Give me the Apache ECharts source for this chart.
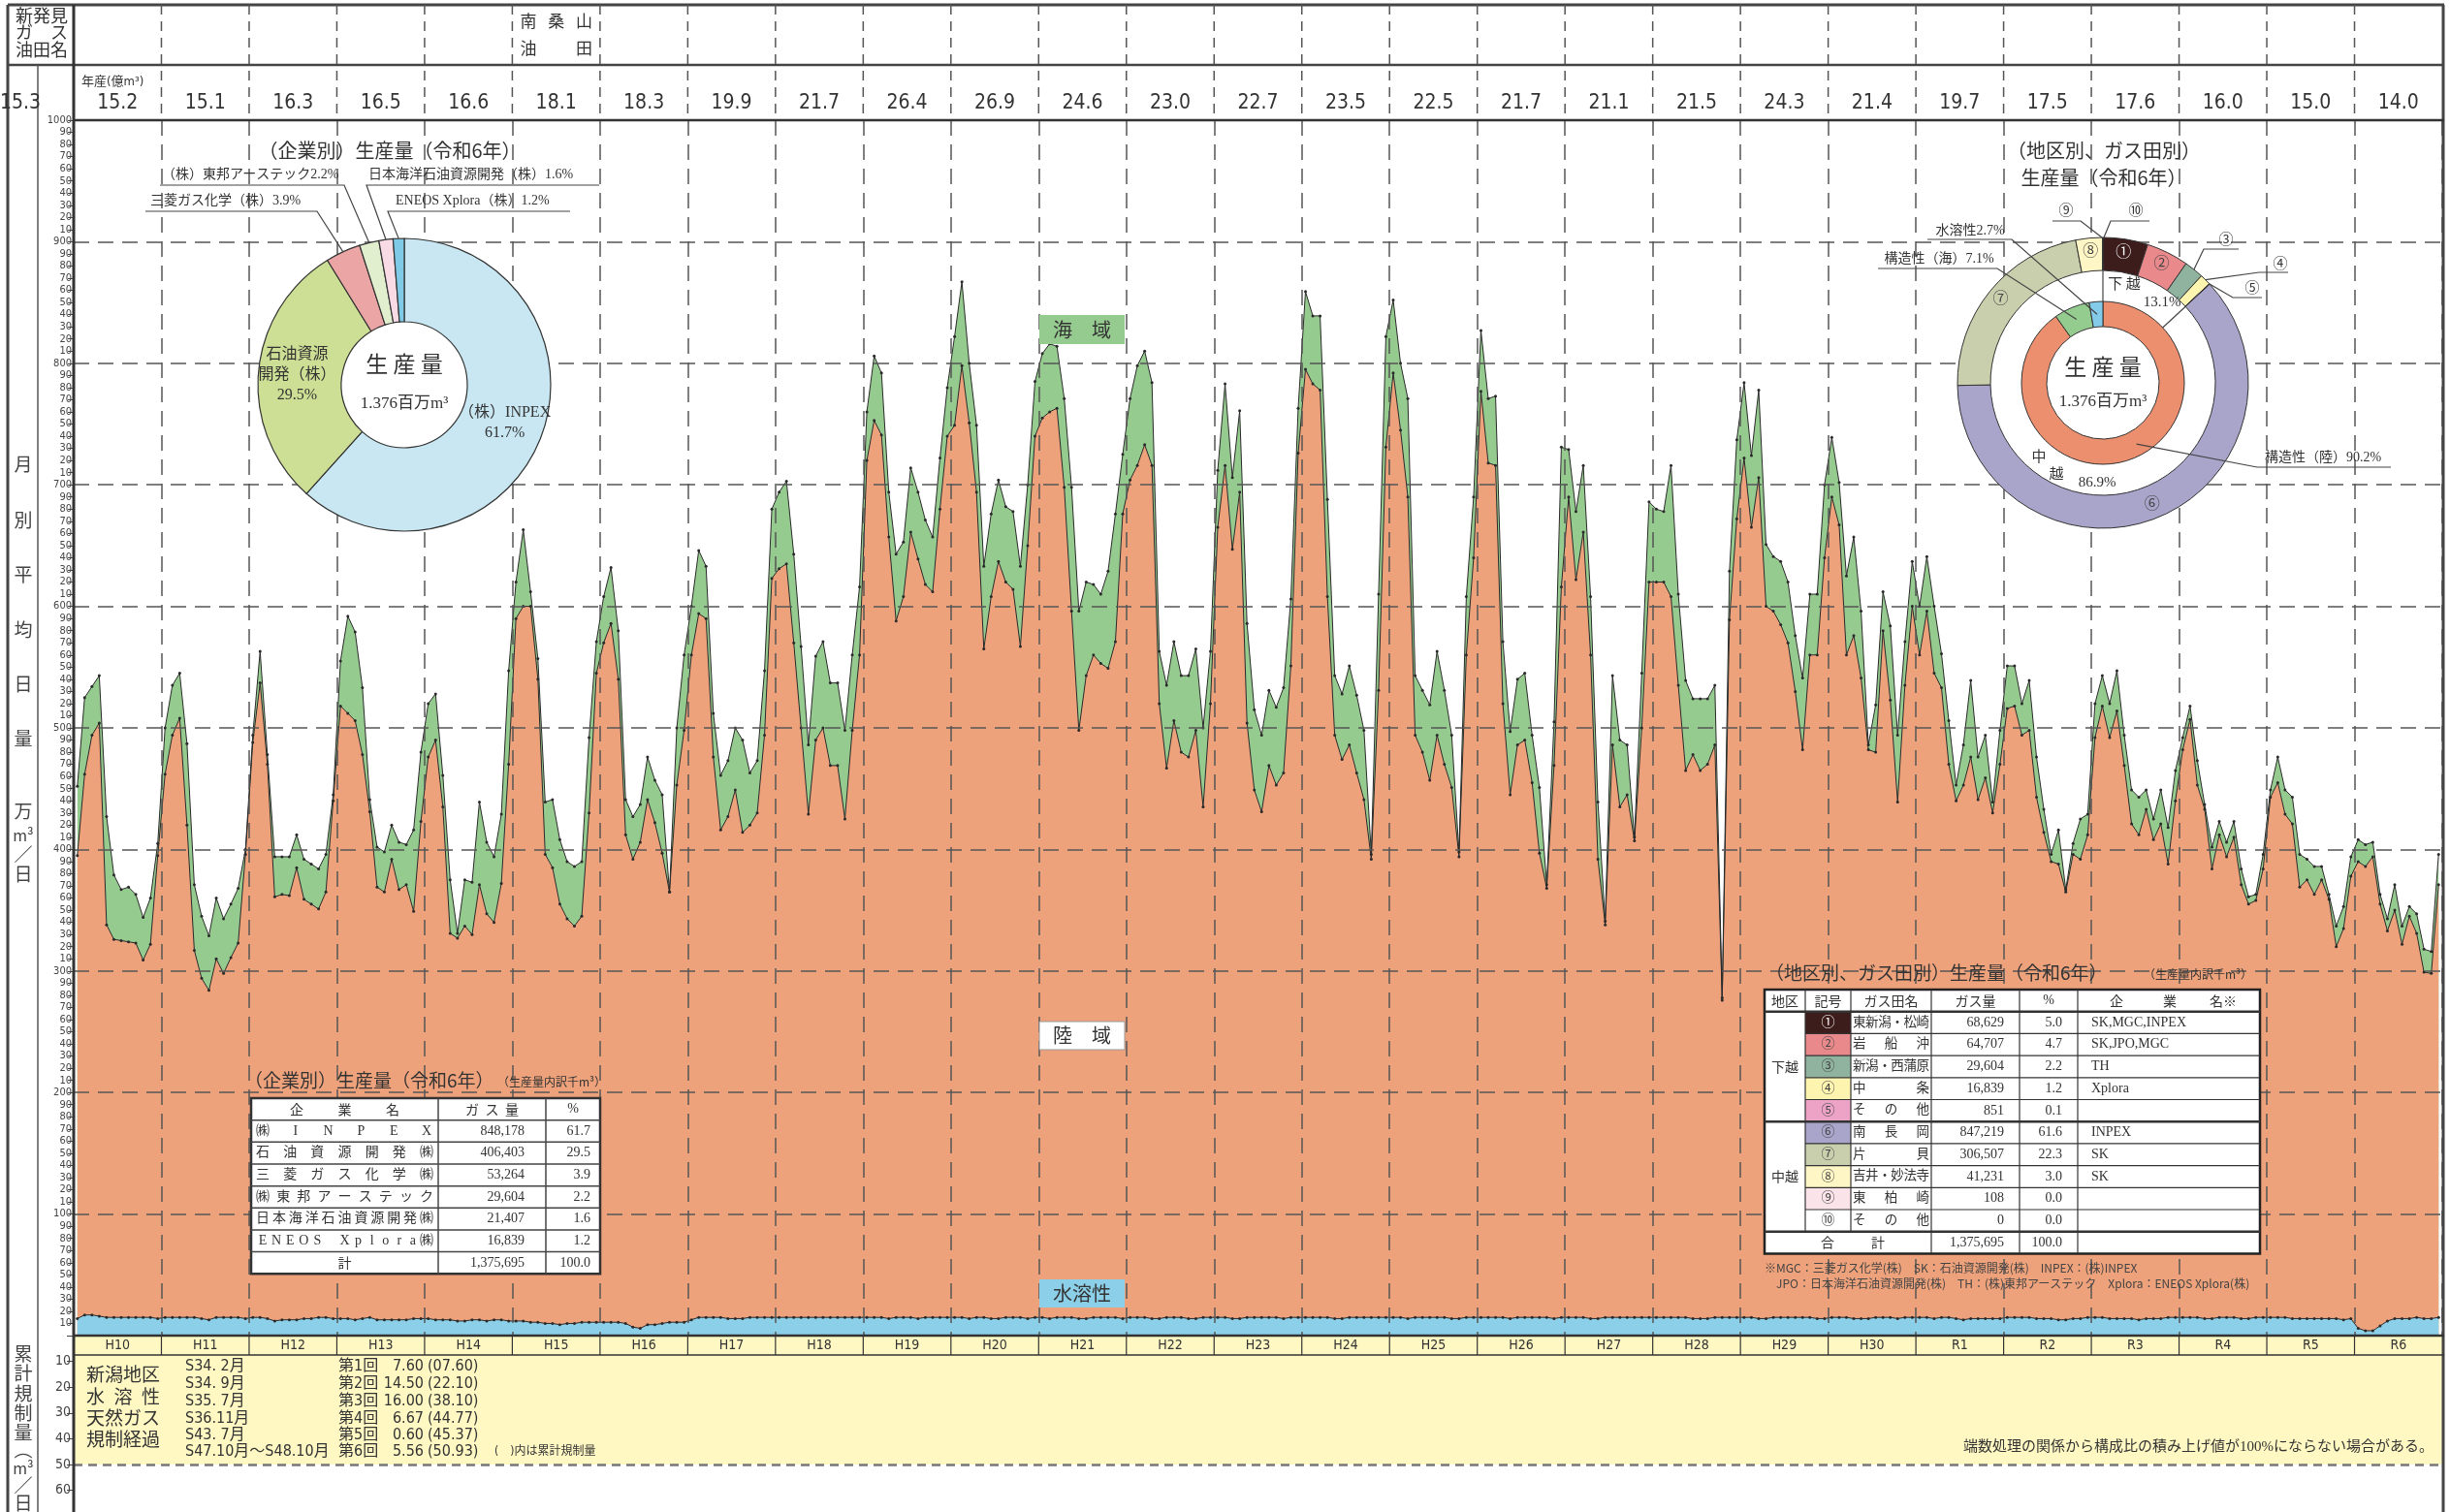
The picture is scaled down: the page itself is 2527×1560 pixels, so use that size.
<!DOCTYPE html>
<html>
<head>
<meta charset="utf-8">
<title>天然ガス月別平均日量の推移</title>
<script src="https://cdn.jsdelivr.net/npm/echarts@6.0.0/dist/echarts.min.js"></script>
<style>
html, body { margin: 0; padding: 0; background: #fff; }
#main { width: 2527px; height: 1560px; }
</style>
</head>
<body>
<div id="main"></div>
<script>
var eraLabels = ['H10','H11','H12','H13','H14','H15','H16','H17','H18','H19','H20','H21','H22','H23','H24','H25','H26','H27','H28','H29','H30','R1','R2','R3','R4','R5','R6'];
var annualOutput = ['15.2','15.1','16.3','16.5','16.6','18.1','18.3','19.9','21.7','26.4','26.9','24.6','23.0','22.7','23.5','22.5','21.7','21.1','21.5','24.3','21.4','19.7','17.5','17.6','16.0','15.0','14.0'];
var priorOutput = '15.3';
var newFieldEra = 5;
var newFieldLines = [['南', '桑', '山'], ['油', '田']];

// 月別平均日量（万m3/日）: 海域の上端 = 合計
var totalLine = [
  452,525,534,543,427,379,367,369,363,344,360,405,
  500,535,545,487,371,345,329,360,343,355,368,400,
  494,563,478,394,394,394,412,392,388,384,396,445,
  555,592,579,533,441,402,398,420,406,404,416,480,
  520,528,461,375,331,375,373,439,406,394,429,547,
  620,663,612,557,439,441,408,390,386,390,492,571,
  608,632,580,441,427,437,476,457,445,365,500,560,
  600,646,633,512,461,473,500,490,463,473,547,680,
  694,703,643,567,486,559,571,537,537,498,560,616,
  760,806,792,694,643,653,714,694,671,657,722,780,
  822,867,800,749,633,676,704,682,678,633,700,785,
  808,816,814,771,698,596,620,618,610,629,676,725,
  771,798,810,784,563,535,571,543,543,565,500,563,
  712,783,706,761,586,515,494,531,517,533,606,763,
  859,839,839,688,543,528,551,527,498,396,610,822,
  852,800,771,543,531,519,563,531,494,398,608,690,
  827,771,773,571,497,540,545,494,451,371,505,731,
  729,678,716,608,439,341,543,490,486,410,545,686,
  680,678,716,610,539,524,524,524,535,278,629,737,
  784,724,778,651,641,637,620,576,541,610,610,700,
  739,702,625,657,596,486,519,612,584,494,571,637,
  600,641,600,561,506,453,486,539,476,494,439,498,
  551,551,520,539,476,433,396,416,367,405,425,429,
  520,543,520,547,494,449,443,449,425,449,418,465,
  492,518,473,437,402,423,406,423,384,361,363,396,
  449,476,449,443,396,392,386,386,363,337,353,394,
  408,404,406,363,343,371,337,353,347,318,316,396
];
// 陸域の上端（水溶性を含む）
var onshoreLine = [
  395,462,494,504,338,326,325,324,323,309,322,395,
  462,494,508,420,317,294,284,310,298,311,323,396,
  488,537,470,361,363,362,385,359,355,351,365,440,
  518,512,506,478,431,369,365,392,367,371,349,423,
  476,490,435,331,327,337,330,371,347,340,372,470,
  590,600,600,540,396,385,355,343,337,345,430,545,
  570,586,540,412,392,406,441,422,397,365,453,498,
  560,594,590,476,416,427,449,414,420,430,494,623,
  631,635,570,500,429,490,500,469,469,425,498,560,
  720,753,741,657,588,608,661,639,618,612,680,740,
  749,798,751,694,565,608,637,620,614,567,650,740,
  755,760,763,698,596,498,543,560,553,549,571,676,
  704,716,733,716,520,467,506,480,476,498,435,520,
  665,716,647,694,504,449,431,469,453,463,551,726,
  795,783,778,608,494,474,486,463,441,392,531,731,
  792,745,690,494,480,457,494,470,451,394,560,640,
  777,718,716,520,445,486,490,455,397,368,469,616,
  690,622,661,560,392,338,486,435,445,407,500,620,
  620,620,608,535,465,478,465,470,486,276,589,672,
  722,665,706,600,596,585,570,530,482,560,560,640,
  690,667,560,576,541,482,480,580,523,439,535,600,
  560,596,545,533,470,440,453,476,441,459,430,470,
  516,518,494,498,443,414,390,388,365,396,392,412,
  492,518,492,514,469,421,412,433,408,421,388,440,
  482,507,453,433,384,412,394,410,371,355,358,384,
  443,455,429,421,369,375,363,375,359,320,335,378,
  390,386,394,355,333,350,322,345,331,299,298,371
];
var waterLine = [
  14,17,17,16,15,15,15,15,15,15,15,14,
  15,15,15,15,15,14,13,15,15,15,15,14,
  15,15,14,12,13,13,13,14,14,15,15,14,
  14,14,13,14,15,13,13,13,13,13,14,14,
  14,13,13,13,12,12,13,13,12,13,13,12,
  12,12,11,11,10,10,9,10,10,11,11,11,
  11,11,11,10,7,6,9,9,10,11,11,11,
  13,15,15,15,15,14,14,14,15,15,15,15,
  15,15,15,15,15,15,15,15,15,15,15,15,
  15,15,15,14,15,15,15,14,15,15,15,15,
  15,15,14,15,15,14,14,15,15,15,14,15,
  15,14,15,15,15,14,14,15,15,15,15,14,
  15,15,15,14,14,15,15,15,14,14,15,15,
  15,15,14,14,15,15,15,15,15,14,15,15,
  15,15,15,15,14,14,15,15,15,15,15,15,
  15,15,14,15,15,15,15,15,14,14,15,15,
  15,15,15,15,14,15,15,15,15,15,14,15,
  15,15,15,14,14,15,15,15,15,15,15,15,
  15,15,15,15,15,14,14,14,15,15,15,15,
  15,15,14,14,15,15,15,15,15,15,14,14,
  15,15,15,14,14,14,15,15,15,14,15,15,
  15,15,14,15,15,14,13,14,14,14,14,14,
  15,15,15,15,14,14,14,13,13,14,14,15,
  15,15,14,14,14,14,13,14,14,14,15,15,
  15,15,15,14,14,15,15,15,14,14,15,15,
  15,15,15,14,14,14,14,14,14,14,13,14,
  6,4,4,8,12,14,14,14,15,14,14,15
];

// 企業別生産量（令和6年, 千m3）
var companyTable = ['㈱INPEX', '石油資源開発㈱', '三菱ガス化学㈱', '㈱東邦アーステック', '日本海洋石油資源開発㈱', 'ENEOS Xplora㈱'];
var companyPie = ['（株）INPEX', '石油資源\n開発（株）', '三菱ガス化学（株）', '（株）東邦アーステック', '日本海洋石油資源開発（株）', 'ENEOS Xplora（株）'];
var companyVolume = [848178, 406403, 53264, 29604, 21407, 16839];
var companyShare = ['61.7', '29.5', '3.9', '2.2', '1.6', '1.2'];
var companyColors = ['#c8e7f2', '#cddf94', '#eca5a5', '#e1efcf', '#f9dbe5', '#7fcbe7'];

// 地区別、ガス田別生産量（令和6年, 千m3）
var fieldMarks = ['①','②','③','④','⑤','⑥','⑦','⑧','⑨','⑩'];
var fieldNames = ['東新潟・松崎', '岩船沖', '新潟・西蒲原', '中条', 'その他', '南長岡', '片貝', '吉井・妙法寺', '東柏崎', 'その他'];
var fieldVolume = [68629, 64707, 29604, 16839, 851, 847219, 306507, 41231, 108, 0];
var fieldShare = ['5.0', '4.7', '2.2', '1.2', '0.1', '61.6', '22.3', '3.0', '0.0', '0.0'];
var fieldCompany = ['SK,MGC,INPEX', 'SK,JPO,MGC', 'TH', 'Xplora', '', 'INPEX', 'SK', 'SK', '', ''];
var fieldColors = ['#3d1c1c', '#e9898b', '#8fb39f', '#fdf4b0', '#eda3c6', '#a8a4ca', '#c9cfad', '#fef6c4', '#fbe3ea', '#ffffff'];
var districtShare = ['13.1', '86.9'];
var typeNames = ['構造性（陸）', '構造性（海）', '水溶性'];
var typeShare = [90.2, 7.1, 2.7];
var typeColors = ['#ec8f6e', '#94cb8f', '#84cbea'];

// 新潟地区水溶性天然ガス規制経過
var regDates = ['S34. 2月', 'S34. 9月', 'S35. 7月', 'S36.11月', 'S43. 7月', 'S47.10月～S48.10月'];
var regRounds = ['第1回', '第2回', '第3回', '第4回', '第5回', '第6回'];
var regAmount = ['7.60', '14.50', '16.00', '6.67', '0.60', '5.56'];
var regCumulative = ['(07.60)', '(22.10)', '(38.10)', '(44.77)', '(45.37)', '(50.93)'];
var regLimit = 50;

var SANS = '"Noto Sans CJK JP", "Noto Sans", sans-serif';
var SERIF = '"Liberation Serif", "DejaVu Serif", "Noto Sans CJK JP", serif';
var NARROW = '"DejaVu Sans Condensed", "Liberation Sans Narrow", "Noto Sans CJK JP", sans-serif';

var GRID = { left: 76, top: 124, width: 2443, height: 1254 };
var PLOT_BOTTOM = GRID.top + GRID.height;
var RIGHT = GRID.left + GRID.width;
var YEAR_W = GRID.width / eraLabels.length;
var PIE1_C = [417, 397];
var PIE2_C = [2169, 395];

function yearX(k) { return GRID.left + YEAR_W * k; }
function sum(a) { return a.reduce(function (s, v) { return s + v; }, 0); }
function fmt(n) { return String(n).replace(/\B(?=(\d{3})+(?!\d))/g, ','); }
function cumMid(values, i) {
    var before = sum(values.slice(0, i));
    return (before + values[i] / 2) / sum(values);
}
function cumEnd(values, i) { return sum(values.slice(0, i + 1)) / sum(values); }
function arcPoint(c, r, frac) {
    var a = frac * 2 * Math.PI;
    return [c[0] + r * Math.sin(a), c[1] - r * Math.cos(a)];
}
function toPoints(values) {
    return values.map(function (v, i) {
        return [Math.floor(i / 12) + ((i % 12) + 0.5) / 12, v];
    });
}

var G = [];
function add(el) { G.push(el); }
function txt(x, y, text, size, o) {
    o = o || {};
    return {
        type: 'text', x: x, y: y, z: o.z || 40, silent: true,
        style: {
            text: text, fontSize: size, fontFamily: o.font || SANS, fontWeight: o.weight || 'normal',
            fill: o.color || '#333', align: o.align || 'center', verticalAlign: 'middle',
            textAlign: o.align || 'center', textVerticalAlign: 'middle', lineHeight: o.lineHeight
        }
    };
}
function seg(x1, y1, x2, y2, w, color, dash, z) {
    return {
        type: 'line', z: z || 38, silent: true,
        shape: { x1: x1, y1: y1, x2: x2, y2: y2 },
        style: { stroke: color || '#333', lineWidth: w || 1, lineDash: dash || null }
    };
}
function poly(points, w, color) {
    return { type: 'polyline', z: 38, silent: true, shape: { points: points }, style: { stroke: color || '#333', lineWidth: w || 1, fill: null } };
}
function box(x, y, w, h, fill, stroke, lw, z) {
    return { type: 'rect', z: z || 30, silent: true, shape: { x: x, y: y, width: w, height: h }, style: { fill: fill, stroke: stroke || null, lineWidth: lw || 0 } };
}
function spread(chars, x0, x1, y, size, font, color) {
    var n = chars.length;
    if (n === 1) { add(txt((x0 + x1) / 2, y, chars[0], size, { font: font, color: color })); return; }
    var a = x0 + size / 2, b = x1 - size / 2;
    chars.forEach(function (c, i) {
        add(txt(a + (b - a) * i / (n - 1), y, c, size, { font: font, color: color }));
    });
}

// 枠線
add(seg(8, 5, RIGHT + 2, 5, 3, '#444'));
add(seg(8, 5, 8, 1560, 3, '#444'));
add(seg(RIGHT + 1, 5, RIGHT + 1, 1560, 3, '#444'));
add(seg(8, 67, RIGHT + 2, 67, 2.5, '#444'));
add(seg(GRID.left, GRID.top, RIGHT + 2, GRID.top, 2.5, '#333'));
add(seg(39, 67, 39, 1560, 1.5, '#555'));
add(seg(GRID.left, 5, GRID.left, 1560, 3, '#333'));
add(seg(GRID.left, PLOT_BOTTOM, RIGHT + 2, PLOT_BOTTOM, 2.5, '#333'));
add(seg(GRID.left, PLOT_BOTTOM + 20, RIGHT + 2, PLOT_BOTTOM + 20, 1.5, '#333'));
add(box(GRID.left + 1, PLOT_BOTTOM + 1, GRID.width, 19, '#fff8c2', null, 0, 31));

// 見出し行
add(txt(43, 16, '新発見', 18));
spread(['ガ', 'ス'], 16, 70, 33, 18);
add(txt(43, 51, '油田名', 18));
add(txt(84, 85, '年産(億m³)', 13, { align: 'left', font: NARROW }));
add(txt(21, 107, priorOutput, 21, { font: NARROW }));
for (var k = 0; k < eraLabels.length; k++) {
    var cx = yearX(k) + YEAR_W / 2;
    add(txt(cx, 107, annualOutput[k], 21, { font: NARROW }));
    add(txt(cx, PLOT_BOTTOM + 10.5, eraLabels[k], 14, { font: NARROW, z: 41 }));
    if (k > 0) {
        add(seg(yearX(k), 5, yearX(k), GRID.top, 1.5, '#555', [10, 7]));
        add(seg(yearX(k), PLOT_BOTTOM, yearX(k), PLOT_BOTTOM + 20, 1.2, '#333', null, 39));
    }
}
spread(newFieldLines[0], yearX(newFieldEra) + 8, yearX(newFieldEra + 1) - 8, 22, 17);
spread(newFieldLines[1], yearX(newFieldEra) + 8, yearX(newFieldEra + 1) - 8, 50, 17);

// 縦書き軸タイトル
var vChars = ['月', '別', '平', '均', '日', '量', '万', 'm³', '／', '日'];
var vYs = [479, 537, 593, 650, 706, 762, 837, 862, 882, 902];
vChars.forEach(function (c, i) { add(txt(24, vYs[i], c, c === 'm³' ? 16 : 19, { color: '#444' })); });
var bChars = ['累', '計', '規', '制', '量', '︵', 'm³', '／', '日'];
var bYs = [1397, 1417, 1438, 1458, 1478, 1496, 1515, 1533, 1551];
bChars.forEach(function (c, i) { add(txt(24, bYs[i], c, c === 'm³' ? 16 : 19, { color: '#444' })); });

// 領域ラベル
add(box(1072, 325, 88, 30, '#96cb8f', null, 0));
add(txt(1116, 340, '海　域', 20));
add(box(1072, 1054, 88, 29, '#ffffff', '#999', 1));
add(txt(1116, 1068.5, '陸　域', 20));
add(box(1072, 1320, 88, 29, '#8ccfe8', null, 0));
add(txt(1116, 1334.5, '水溶性', 20));

// 規制経過
spread(['新', '潟', '地', '区'], 89, 165, 1418, 19);
spread(['水', '溶', '性'], 89, 165, 1441, 19);
spread(['天', '然', 'ガ', 'ス'], 89, 165, 1463, 19);
spread(['規', '制', '経', '過'], 89, 165, 1485, 19);
var regYs = [1410, 1428, 1446, 1464, 1481, 1498];
regDates.forEach(function (d, i) {
    add(txt(191, regYs[i], d, 16, { align: 'left', font: NARROW }));
    add(txt(349, regYs[i], regRounds[i], 16, { align: 'left', font: NARROW }));
    add(txt(437, regYs[i], regAmount[i], 16, { align: 'right', font: NARROW }));
    add(txt(441, regYs[i], regCumulative[i], 16, { align: 'left', font: NARROW }));
});
add(txt(510, 1498, '(　)内は累計規制量', 12, { align: 'left', font: NARROW }));
add(txt(2510, 1493, '端数処理の関係から構成比の積み上げ値が100%にならない場合がある。', 15, { align: 'right', font: SERIF }));

// 企業別 円グラフの注記
add(txt(402, 155, '（企業別）生産量（令和6年）', 20));
add(txt(417, 375, '生 産 量', 23));
add(txt(417, 417, '1.376百万m³', 17, { font: SERIF }));
var p1Labels = [
    { i: 3, x: 167, y: 180, line: [[165, 191], [355, 191]] },
    { i: 2, x: 155, y: 207, line: [[150, 218], [327, 218]] },
    { i: 4, x: 380, y: 180, line: [[618, 191], [378, 191]] },
    { i: 5, x: 408, y: 207, line: [[588, 218], [400, 218]] }
];
p1Labels.forEach(function (l) {
    add(txt(l.x, l.y, companyPie[l.i] + companyShare[l.i] + '%', 14, { align: 'left', font: SERIF }));
    add(poly([l.line[0], l.line[1], arcPoint(PIE1_C, 151, cumMid(companyVolume, l.i))], 1.2, '#444'));
});

// 地区別、ガス田別 円グラフの注記
add(txt(2170, 155, '（地区別、ガス田別）', 20));
add(txt(2170, 183, '生産量（令和6年）', 20));
add(txt(2169, 378, '生 産 量', 23));
add(txt(2169, 415, '1.376百万m³', 17, { font: SERIF }));
var ringTop = arcPoint(PIE2_C, 150, 0);
add(txt(2131, 218, fieldMarks[8], 15, { font: SERIF }));
add(poly([[2117, 228], [2146, 228], [ringTop[0] - 1, ringTop[1]]], 1.2, '#444'));
add(txt(2203, 218, fieldMarks[9], 15, { font: SERIF }));
add(poly([[2217, 228], [2177, 228], [ringTop[0] + 1, ringTop[1]]], 1.2, '#444'));
var p2Labels = [
    { i: 2, x: 2296, y: 248, line: [[2309, 257], [2273, 257]] },
    { i: 3, x: 2352, y: 273, line: [[2360, 281], [2330, 281]] },
    { i: 4, x: 2323, y: 298, line: [[2333, 307], [2303, 307]] }
];
p2Labels.forEach(function (l) {
    add(txt(l.x, l.y, fieldMarks[l.i], 15, { font: SERIF }));
    add(poly([l.line[0], l.line[1], arcPoint(PIE2_C, 150, cumMid(fieldVolume, l.i))], 1.2, '#444'));
});
add(txt(2032, 238, typeNames[2] + typeShare[2].toFixed(1) + '%', 14, { font: SERIF }));
add(poly([[1988, 247], [2075, 247], arcPoint(PIE2_C, 71, cumMid(typeShare, 2))], 1.2, '#444'));
add(txt(2000, 267, typeNames[1] + typeShare[1].toFixed(1) + '%', 14, { font: SERIF }));
add(poly([[1937, 277], [2060, 277], arcPoint(PIE2_C, 71, cumMid(typeShare, 1))], 1.2, '#444'));
add(txt(2396, 472, typeNames[0] + typeShare[0].toFixed(1) + '%', 14, { font: SERIF }));
add(poly([[2466, 482], [2328, 482], arcPoint(PIE2_C, 72, 0.42)], 1.2, '#444'));
// 下越・中越の境界
var lowEnd = cumEnd(fieldVolume, 4);
add(poly([arcPoint(PIE2_C, 84, 0), arcPoint(PIE2_C, 116, 0)], 1.2, '#444'));
add(poly([arcPoint(PIE2_C, 84, lowEnd), arcPoint(PIE2_C, 116, lowEnd)], 1.2, '#444'));
add(txt(2191, 292, '下 越', 15));
add(txt(2230, 312, districtShare[0] + '%', 15, { font: SERIF }));
add(txt(2103, 470, '中', 15));
add(txt(2121, 488, '越', 15));
add(txt(2163, 498, districtShare[1] + '%', 15, { font: SERIF }));

// 企業別 表
var T1X = [259, 452, 563, 619], T1Y = 1133, T1H = 22.66;
var t1N = companyTable.length + 2;
function rowY(y0, h, r) { return y0 + h * (r + 0.5); }
add(txt(252, 1115, '（企業別）生産量（令和6年）', 19, { align: 'left' }));
add(txt(513, 1116, '（生産量内訳千m³）', 12, { align: 'left' }));
add(box(T1X[0], T1Y, T1X[3] - T1X[0], T1H * t1N, '#fff', '#333', 2.5));
for (var r1 = 1; r1 < t1N; r1++) add(seg(T1X[0], T1Y + T1H * r1, T1X[3], T1Y + T1H * r1, 1.5, '#444'));
for (var c1 = 1; c1 < 3; c1++) add(seg(T1X[c1], T1Y, T1X[c1], T1Y + T1H * t1N, 1.5, '#444'));
spread(['企', '業', '名'], T1X[0] + 40, T1X[1] - 40, rowY(T1Y, T1H, 0), 14);
spread(['ガ', 'ス', '量'], T1X[1] + 28, T1X[2] - 28, rowY(T1Y, T1H, 0), 14);
add(txt((T1X[2] + T1X[3]) / 2, rowY(T1Y, T1H, 0), '%', 14, { font: SERIF }));
companyTable.forEach(function (name, i) {
    var y = rowY(T1Y, T1H, i + 1);
    spread(Array.from(name), T1X[0] + 5, T1X[1] - 5, y, 14, SERIF);
    add(txt(T1X[2] - 22, y, fmt(companyVolume[i]), 14, { font: SERIF, align: 'right' }));
    add(txt(T1X[3] - 10, y, companyShare[i], 14, { font: SERIF, align: 'right' }));
});
var yT1 = rowY(T1Y, T1H, t1N - 1);
add(txt((T1X[0] + T1X[1]) / 2, yT1, '計', 14));
add(txt(T1X[2] - 22, yT1, fmt(sum(companyVolume)), 14, { font: SERIF, align: 'right' }));
add(txt(T1X[3] - 10, yT1, '100.0', 14, { font: SERIF, align: 'right' }));

// 地区別、ガス田別 表
var T2X = [1820, 1862, 1909, 1992, 2083, 2143, 2331], T2Y = 1021, T2H = 22.7;
var t2N = fieldNames.length + 2;
var t2B = T2Y + T2H * t2N;
add(txt(1821, 1004, '（地区別、ガス田別）生産量（令和6年）', 19, { align: 'left' }));
add(txt(2211, 1005, '（生産量内訳千m³）', 12, { align: 'left' }));
add(box(T2X[0], T2Y, T2X[6] - T2X[0], T2H * t2N, '#fff', '#222', 2.5));
fieldNames.forEach(function (n, i) {
    add(box(T2X[1], T2Y + T2H * (i + 1), T2X[2] - T2X[1], T2H, fieldColors[i], null, 0, 32));
});
for (var r2 = 1; r2 < t2N; r2++) {
    var heavy = (r2 === 1 || r2 === 6 || r2 === t2N - 1);
    add(seg(heavy ? T2X[0] : T2X[1], T2Y + T2H * r2, T2X[6], T2Y + T2H * r2, heavy ? 2.5 : 1.2, '#333'));
}
add(seg(T2X[1], T2Y, T2X[1], T2Y + T2H * (t2N - 1), 1.2, '#333'));
add(seg(T2X[2], T2Y, T2X[2], T2Y + T2H * (t2N - 1), 1.2, '#333'));
[3, 4, 5].forEach(function (c) { add(seg(T2X[c], T2Y, T2X[c], t2B, 1.2, '#333')); });
var hY = rowY(T2Y, T2H, 0);
add(txt((T2X[0] + T2X[1]) / 2, hY, '地区', 14));
add(txt((T2X[1] + T2X[2]) / 2, hY, '記号', 14));
add(txt((T2X[2] + T2X[3]) / 2, hY, 'ガス田名', 14));
add(txt((T2X[3] + T2X[4]) / 2, hY, 'ガス量', 14));
add(txt((T2X[4] + T2X[5]) / 2, hY, '%', 14, { font: SERIF }));
spread(['企', '業', '名※'], 2176, 2300, hY, 14);
add(txt((T2X[0] + T2X[1]) / 2, T2Y + T2H * 3.5, '下越', 14));
add(txt((T2X[0] + T2X[1]) / 2, T2Y + T2H * 8.5, '中越', 14));
fieldNames.forEach(function (n, i) {
    var y = rowY(T2Y, T2H, i + 1);
    add(txt((T2X[1] + T2X[2]) / 2, y, fieldMarks[i], 14, { font: SERIF, color: i === 0 ? '#fff' : '#444' }));
    spread(Array.from(n), T2X[2] + 2, T2X[3] - 2, y, 13.5, SERIF);
    add(txt(T2X[4] - 16, y, fmt(fieldVolume[i]), 14, { font: SERIF, align: 'right' }));
    add(txt(T2X[5] - 16, y, fieldShare[i], 14, { font: SERIF, align: 'right' }));
    add(txt(T2X[5] + 14, y, fieldCompany[i], 14, { font: SERIF, align: 'left' }));
});
var yT2 = rowY(T2Y, T2H, t2N - 1);
spread(['合', '計'], 1878, 1944, yT2, 14);
add(txt(T2X[4] - 16, yT2, fmt(sum(fieldVolume)), 14, { font: SERIF, align: 'right' }));
add(txt(T2X[5] - 16, yT2, '100.0', 14, { font: SERIF, align: 'right' }));
add(txt(1820, 1308, '※MGC：三菱ガス化学(株)　SK：石油資源開発(株)　INPEX：(株)INPEX', 12, { align: 'left', color: '#444' }));
add(txt(1832, 1324, 'JPO：日本海洋石油資源開発(株)　TH：(株)東邦アーステック　Xplora：ENEOS Xplora(株)', 12, { align: 'left', color: '#444' }));

function areaSeries(name, values, fill) {
    return {
        type: 'line', name: name, xAxisIndex: 0, yAxisIndex: 0, data: toPoints(values),
        symbol: 'circle', symbolSize: 3, showSymbol: true,
        lineStyle: { color: '#2a2a2a', width: 1 }, itemStyle: { color: '#2a2a2a' },
        areaStyle: { color: fill, opacity: 1 }, silent: true, z: 2
    };
}
var dash = [16, 9];

var myChart = echarts.init(document.getElementById('main'), null, { renderer: 'canvas' });
var option = {
    animation: false,
    backgroundColor: '#fff',
    grid: [
        { left: GRID.left, top: GRID.top, width: GRID.width, height: GRID.height, outerBoundsMode: 'none' },
        { left: GRID.left, top: PLOT_BOTTOM, width: GRID.width, height: 159.6, outerBoundsMode: 'none' }
    ],
    xAxis: [
        {
            gridIndex: 0, type: 'value', min: 0, max: eraLabels.length, interval: 1, z: 5,
            axisLine: { show: false }, axisTick: { show: false }, axisLabel: { show: false },
            splitLine: { show: true, lineStyle: { color: '#555', width: 1.5, type: dash } }
        },
        { gridIndex: 1, type: 'value', min: 0, max: eraLabels.length, show: false }
    ],
    yAxis: [
        {
            gridIndex: 0, type: 'value', min: 0, max: 1000, interval: 10, z: 6,
            axisLine: { show: false },
            axisTick: { show: true, length: 6, lineStyle: { color: '#444', width: 1 } },
            axisLabel: {
                fontSize: 11, lineHeight: 11, color: '#444', margin: 2, hideOverlap: false, fontFamily: NARROW,
                formatter: function (v) { return v === 0 ? '' : (v % 100 === 0 ? String(v) : String(v % 100)); }
            },
            splitLine: { show: false }
        },
        {
            gridIndex: 0, type: 'value', min: 0, max: 1000, interval: 100, z: 5,
            axisLine: { show: false }, axisTick: { show: false }, axisLabel: { show: false },
            splitLine: { show: true, lineStyle: { color: '#555', width: 1.5, type: dash } }
        },
        {
            gridIndex: 1, type: 'value', inverse: true, min: 0, max: 60, interval: 10,
            axisLine: { show: false },
            axisTick: { show: true, length: 7, lineStyle: { color: '#444', width: 1 } },
            axisLabel: { fontSize: 14, color: '#444', margin: 3, fontFamily: NARROW, formatter: function (v) { return v === 0 ? '' : String(v); } },
            splitLine: { show: false }
        }
    ],
    series: [
        areaSeries('海域', totalLine, '#96cb8f'),
        areaSeries('陸域', onshoreLine, '#eea27b'),
        areaSeries('水溶性', waterLine, '#8ccfe8'),
        {
            type: 'line', xAxisIndex: 1, yAxisIndex: 2, data: [], silent: true,
            markArea: { silent: true, itemStyle: { color: '#fff8c2' }, data: [[{ xAxis: 0, yAxis: 0 }, { xAxis: eraLabels.length, yAxis: regLimit }]] },
            markLine: { silent: true, symbol: 'none', label: { show: false }, lineStyle: { color: '#777', width: 2.5, type: [9, 6] }, data: [{ yAxis: regLimit }] }
        },
        {
            type: 'pie', center: PIE1_C, radius: [0, 65], silent: true, z: 20,
            label: { show: false }, labelLine: { show: false },
            data: [{ value: 1, itemStyle: { color: '#fff' } }]
        },
        {
            type: 'pie', name: '企業別', center: PIE1_C, radius: [65, 151], startAngle: 90, clockwise: true,
            silent: true, z: 21, avoidLabelOverlap: false,
            itemStyle: { borderColor: '#333', borderWidth: 1.2 },
            label: { show: true, position: 'inside', color: '#333', fontSize: 16, lineHeight: 21, fontFamily: SERIF },
            labelLine: { show: false },
            data: companyPie.map(function (n, i) {
                return {
                    name: n, value: companyVolume[i], itemStyle: { color: companyColors[i] },
                    label: { show: i < 2, formatter: n + '\n' + companyShare[i] + '%' }
                };
            })
        },
        {
            type: 'pie', center: PIE2_C, radius: [0, 150], silent: true, z: 20,
            label: { show: false }, labelLine: { show: false },
            data: [{ value: 1, itemStyle: { color: '#fff' } }]
        },
        {
            type: 'pie', name: 'ガス田別', center: PIE2_C, radius: [116, 150], startAngle: 90, clockwise: true,
            silent: true, z: 21, avoidLabelOverlap: false,
            itemStyle: { borderColor: '#333', borderWidth: 1 },
            label: { show: true, position: 'inside', color: '#444', fontSize: 16, fontFamily: SERIF },
            labelLine: { show: false },
            data: fieldNames.map(function (n, i) {
                return {
                    name: fieldMarks[i] + n, value: fieldVolume[i], itemStyle: { color: fieldColors[i] },
                    label: { show: [0, 1, 5, 6, 7].indexOf(i) >= 0, formatter: fieldMarks[i], color: i === 0 ? '#fff' : '#444' }
                };
            })
        },
        {
            type: 'pie', name: '種類別', center: PIE2_C, radius: [58, 84], startAngle: 90, clockwise: true,
            silent: true, z: 21,
            itemStyle: { borderColor: '#333', borderWidth: 1 },
            label: { show: false }, labelLine: { show: false },
            data: typeNames.map(function (n, i) {
                return { name: n, value: typeShare[i], itemStyle: { color: typeColors[i] } };
            })
        }
    ],
    graphic: { elements: G }
};
myChart.setOption(option);
</script>
</body>
</html>
